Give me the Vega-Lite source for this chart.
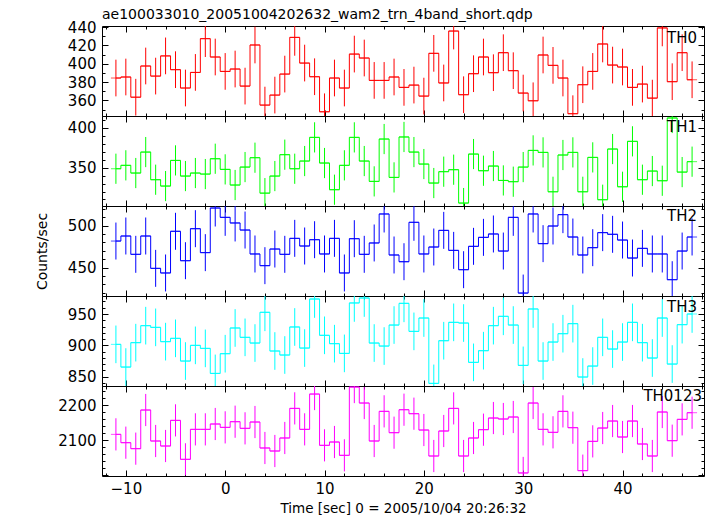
{
"$schema": "https://vega.github.io/schema/vega-lite/v6.json",
"padding": {"left": 34, "top": 7, "right": 5, "bottom": 5},
"background": "white",
"spacing": 0,
"bounds": "flush",
"datasets": {
"TH0": [{"t":-11,"rate":384.4,"err":20},{"t":-10,"rate":385.5,"err":20},{"t":-9,"rate":363.5,"err":20},{"t":-8,"rate":397.5,"err":20},{"t":-7,"rate":386.5,"err":20},{"t":-6,"rate":408.5,"err":20},{"t":-5,"rate":393.5,"err":20},{"t":-4,"rate":373.5,"err":20},{"t":-3,"rate":390.5,"err":20},{"t":-2,"rate":427.3,"err":20},{"t":-1,"rate":407.3,"err":20},{"t":0,"rate":391.6,"err":20},{"t":1,"rate":394.2,"err":20},{"t":2,"rate":375.6,"err":20},{"t":3,"rate":420.4,"err":20},{"t":4,"rate":354.9,"err":20},{"t":5,"rate":365.8,"err":20},{"t":6,"rate":388.7,"err":20},{"t":7,"rate":428.7,"err":20},{"t":8,"rate":400.7,"err":20},{"t":9,"rate":385.8,"err":20},{"t":10,"rate":347.6,"err":20},{"t":11,"rate":384.4,"err":20},{"t":12,"rate":373.5,"err":20},{"t":13,"rate":410.5,"err":20},{"t":14,"rate":406.2,"err":20},{"t":15,"rate":381.8,"err":20},{"t":16,"rate":381.8,"err":20},{"t":17,"rate":385.5,"err":20},{"t":18,"rate":374.2,"err":20},{"t":19,"rate":376.7,"err":20},{"t":20,"rate":364.7,"err":20},{"t":21,"rate":411.3,"err":20},{"t":22,"rate":379.0,"err":20},{"t":23,"rate":435.6,"err":20},{"t":24,"rate":366.2,"err":20},{"t":25,"rate":389.1,"err":20},{"t":26,"rate":407.3,"err":20},{"t":27,"rate":390.2,"err":20},{"t":28,"rate":412.0,"err":20},{"t":29,"rate":392.4,"err":20},{"t":30,"rate":368.0,"err":20},{"t":31,"rate":359.6,"err":20},{"t":32,"rate":409.5,"err":20},{"t":33,"rate":398.2,"err":20},{"t":34,"rate":384.4,"err":20},{"t":35,"rate":345.5,"err":20},{"t":36,"rate":377.1,"err":20},{"t":37,"rate":391.6,"err":20},{"t":38,"rate":421.5,"err":20},{"t":39,"rate":398.5,"err":20},{"t":40,"rate":396.4,"err":20},{"t":41,"rate":374.2,"err":20},{"t":42,"rate":377.8,"err":20},{"t":43,"rate":362.5,"err":20},{"t":44,"rate":439.0,"err":20},{"t":45,"rate":380.4,"err":20},{"t":46,"rate":412.0,"err":20},{"t":47,"rate":382.5,"err":20}],
"TH1": [{"t":-11,"rate":348.7,"err":19},{"t":-10,"rate":353.0,"err":19},{"t":-9,"rate":343.3,"err":19},{"t":-8,"rate":369.7,"err":19},{"t":-7,"rate":334.9,"err":19},{"t":-6,"rate":326.9,"err":19},{"t":-5,"rate":359.2,"err":19},{"t":-4,"rate":339.5,"err":19},{"t":-3,"rate":343.3,"err":19},{"t":-2,"rate":342.0,"err":19},{"t":-1,"rate":361.3,"err":19},{"t":0,"rate":347.9,"err":19},{"t":1,"rate":328.2,"err":19},{"t":2,"rate":350.8,"err":19},{"t":3,"rate":362.6,"err":19},{"t":4,"rate":318.0,"err":19},{"t":5,"rate":339.5,"err":19},{"t":6,"rate":366.4,"err":19},{"t":7,"rate":348.7,"err":19},{"t":8,"rate":358.4,"err":19},{"t":9,"rate":388.2,"err":19},{"t":10,"rate":355.9,"err":19},{"t":11,"rate":322.3,"err":19},{"t":12,"rate":353.0,"err":19},{"t":13,"rate":388.2,"err":19},{"t":14,"rate":358.4,"err":19},{"t":15,"rate":332.8,"err":19},{"t":16,"rate":386.1,"err":19},{"t":17,"rate":337.8,"err":19},{"t":18,"rate":388.7,"err":19},{"t":19,"rate":369.7,"err":19},{"t":20,"rate":354.6,"err":19},{"t":21,"rate":330.7,"err":19},{"t":22,"rate":345.0,"err":19},{"t":23,"rate":347.5,"err":19},{"t":24,"rate":305.5,"err":19},{"t":25,"rate":367.2,"err":19},{"t":26,"rate":346.2,"err":19},{"t":27,"rate":352.1,"err":19},{"t":28,"rate":334.0,"err":19},{"t":29,"rate":332.4,"err":19},{"t":30,"rate":350.8,"err":19},{"t":31,"rate":371.8,"err":19},{"t":32,"rate":369.3,"err":19},{"t":33,"rate":319.7,"err":19},{"t":34,"rate":366.0,"err":19},{"t":35,"rate":369.3,"err":19},{"t":36,"rate":319.7,"err":19},{"t":37,"rate":363.0,"err":19},{"t":38,"rate":309.7,"err":19},{"t":39,"rate":373.5,"err":19},{"t":40,"rate":326.0,"err":19},{"t":41,"rate":383.2,"err":19},{"t":42,"rate":334.9,"err":19},{"t":43,"rate":345.8,"err":19},{"t":44,"rate":333.6,"err":19},{"t":45,"rate":412.6,"err":19},{"t":46,"rate":344.5,"err":19},{"t":47,"rate":357.6,"err":19}],
"TH2": [{"t":-11,"rate":481.7,"err":22},{"t":-10,"rate":487.7,"err":22},{"t":-9,"rate":465.9,"err":22},{"t":-8,"rate":487.7,"err":22},{"t":-7,"rate":449.2,"err":22},{"t":-6,"rate":443.7,"err":22},{"t":-5,"rate":493.3,"err":22},{"t":-4,"rate":458.3,"err":22},{"t":-3,"rate":496.4,"err":22},{"t":-2,"rate":467.9,"err":22},{"t":-1,"rate":521.0,"err":22},{"t":0,"rate":509.9,"err":22},{"t":1,"rate":503.2,"err":22},{"t":2,"rate":494.8,"err":22},{"t":3,"rate":466.3,"err":22},{"t":4,"rate":452.4,"err":22},{"t":5,"rate":472.2,"err":22},{"t":6,"rate":465.9,"err":22},{"t":7,"rate":484.9,"err":22},{"t":8,"rate":475.8,"err":22},{"t":9,"rate":483.3,"err":22},{"t":10,"rate":466.3,"err":22},{"t":11,"rate":484.9,"err":22},{"t":12,"rate":443.7,"err":22},{"t":13,"rate":484.5,"err":22},{"t":14,"rate":465.9,"err":22},{"t":15,"rate":479.4,"err":22},{"t":16,"rate":513.9,"err":22},{"t":17,"rate":465.1,"err":22},{"t":18,"rate":457.1,"err":22},{"t":19,"rate":504.0,"err":22},{"t":20,"rate":466.3,"err":22},{"t":21,"rate":474.6,"err":22},{"t":22,"rate":494.4,"err":22},{"t":23,"rate":470.6,"err":22},{"t":24,"rate":447.6,"err":22},{"t":25,"rate":475.4,"err":22},{"t":26,"rate":486.1,"err":22},{"t":27,"rate":490.1,"err":22},{"t":28,"rate":469.8,"err":22},{"t":29,"rate":509.9,"err":22},{"t":30,"rate":419.8,"err":22},{"t":31,"rate":513.9,"err":22},{"t":32,"rate":478.6,"err":22},{"t":33,"rate":499.6,"err":22},{"t":34,"rate":513.1,"err":22},{"t":35,"rate":486.5,"err":22},{"t":36,"rate":465.1,"err":22},{"t":37,"rate":473.8,"err":22},{"t":38,"rate":491.7,"err":22},{"t":39,"rate":489.7,"err":22},{"t":40,"rate":482.9,"err":22},{"t":41,"rate":461.5,"err":22},{"t":42,"rate":473.0,"err":22},{"t":43,"rate":466.3,"err":22},{"t":44,"rate":466.3,"err":22},{"t":45,"rate":435.7,"err":22},{"t":46,"rate":469.8,"err":22},{"t":47,"rate":486.5,"err":22}],
"TH3": [{"t":-11,"rate":901.6,"err":30},{"t":-10,"rate":865.4,"err":30},{"t":-9,"rate":904.3,"err":30},{"t":-8,"rate":931.4,"err":30},{"t":-7,"rate":928.7,"err":30},{"t":-6,"rate":905.9,"err":30},{"t":-5,"rate":911.2,"err":30},{"t":-4,"rate":875.0,"err":30},{"t":-3,"rate":900.0,"err":30},{"t":-2,"rate":895.2,"err":30},{"t":-1,"rate":855.3,"err":30},{"t":0,"rate":886.7,"err":30},{"t":1,"rate":927.7,"err":30},{"t":2,"rate":912.8,"err":30},{"t":3,"rate":903.7,"err":30},{"t":4,"rate":952.7,"err":30},{"t":5,"rate":891.0,"err":30},{"t":6,"rate":884.6,"err":30},{"t":7,"rate":929.3,"err":30},{"t":8,"rate":895.7,"err":30},{"t":9,"rate":973.9,"err":30},{"t":10,"rate":916.0,"err":30},{"t":11,"rate":902.7,"err":30},{"t":12,"rate":887.2,"err":30},{"t":13,"rate":967.6,"err":30},{"t":14,"rate":975.5,"err":30},{"t":15,"rate":903.7,"err":30},{"t":16,"rate":898.9,"err":30},{"t":17,"rate":932.4,"err":30},{"t":18,"rate":967.0,"err":30},{"t":19,"rate":922.3,"err":30},{"t":20,"rate":943.6,"err":30},{"t":21,"rate":839.4,"err":30},{"t":22,"rate":907.4,"err":30},{"t":23,"rate":936.7,"err":30},{"t":24,"rate":935.6,"err":30},{"t":25,"rate":872.9,"err":30},{"t":26,"rate":891.5,"err":30},{"t":27,"rate":931.4,"err":30},{"t":28,"rate":946.3,"err":30},{"t":29,"rate":932.4,"err":30},{"t":30,"rate":868.1,"err":30},{"t":31,"rate":958.0,"err":30},{"t":32,"rate":875.0,"err":30},{"t":33,"rate":905.3,"err":30},{"t":34,"rate":918.6,"err":30},{"t":35,"rate":934.6,"err":30},{"t":36,"rate":849.5,"err":30},{"t":37,"rate":867.0,"err":30},{"t":38,"rate":912.8,"err":30},{"t":39,"rate":894.1,"err":30},{"t":40,"rate":905.3,"err":30},{"t":41,"rate":936.7,"err":30},{"t":42,"rate":904.3,"err":30},{"t":43,"rate":879.8,"err":30},{"t":44,"rate":943.6,"err":30},{"t":45,"rate":870.2,"err":30},{"t":46,"rate":933.0,"err":30},{"t":47,"rate":950.0,"err":30}],
"TH0123": [{"t":-11,"rate":2117.1,"err":46},{"t":-10,"rate":2093.3,"err":46},{"t":-9,"rate":2076.2,"err":46},{"t":-8,"rate":2186.7,"err":46},{"t":-7,"rate":2098.1,"err":46},{"t":-6,"rate":2083.8,"err":46},{"t":-5,"rate":2157.1,"err":46},{"t":-4,"rate":2045.7,"err":46},{"t":-3,"rate":2131.4,"err":46},{"t":-2,"rate":2131.4,"err":46},{"t":-1,"rate":2146.7,"err":46},{"t":0,"rate":2137.1,"err":46},{"t":1,"rate":2153.3,"err":46},{"t":2,"rate":2134.3,"err":46},{"t":3,"rate":2152.4,"err":46},{"t":4,"rate":2078.1,"err":46},{"t":5,"rate":2069.5,"err":46},{"t":6,"rate":2106.7,"err":46},{"t":7,"rate":2191.4,"err":46},{"t":8,"rate":2131.4,"err":46},{"t":9,"rate":2232.4,"err":46},{"t":10,"rate":2085.7,"err":46},{"t":11,"rate":2095.2,"err":46},{"t":12,"rate":2057.1,"err":46},{"t":13,"rate":2252.4,"err":46},{"t":14,"rate":2206.7,"err":46},{"t":15,"rate":2098.1,"err":46},{"t":16,"rate":2182.9,"err":46},{"t":17,"rate":2121.9,"err":46},{"t":18,"rate":2187.6,"err":46},{"t":19,"rate":2176.2,"err":46},{"t":20,"rate":2129.5,"err":46},{"t":21,"rate":2055.2,"err":46},{"t":22,"rate":2126.7,"err":46},{"t":23,"rate":2191.4,"err":46},{"t":24,"rate":2055.2,"err":46},{"t":25,"rate":2106.7,"err":46},{"t":26,"rate":2130.5,"err":46},{"t":27,"rate":2163.8,"err":46},{"t":28,"rate":2161.0,"err":46},{"t":29,"rate":2166.7,"err":46},{"t":30,"rate":2006.7,"err":46},{"t":31,"rate":2206.7,"err":46},{"t":32,"rate":2131.4,"err":46},{"t":33,"rate":2122.9,"err":46},{"t":34,"rate":2182.9,"err":46},{"t":35,"rate":2136.2,"err":46},{"t":36,"rate":2013.3,"err":46},{"t":37,"rate":2097.1,"err":46},{"t":38,"rate":2135.2,"err":46},{"t":39,"rate":2155.2,"err":46},{"t":40,"rate":2109.5,"err":46},{"t":41,"rate":2155.2,"err":46},{"t":42,"rate":2089.5,"err":46},{"t":43,"rate":2055.2,"err":46},{"t":44,"rate":2181.0,"err":46},{"t":45,"rate":2099.0,"err":46},{"t":46,"rate":2160.0,"err":46},{"t":47,"rate":2179.0,"err":46}]
},
"vconcat": [
{
"data": {"name": "TH0"},
"width": 602, "height": 90,
"title": {"text": "ae100033010_20051004202632_wam2_trn_4band_short.qdp", "anchor": "start", "frame": "group", "fontSize": 14, "fontWeight": "normal", "font": "DejaVu Sans", "color": "black", "offset": -2},
"layer": [
{"mark": {"type": "line", "interpolate": "step", "color": "#ff0000", "strokeWidth": 1, "clip": true},
 "encoding": {
  "x": {"field": "t", "type": "quantitative", "scale": {"domain": [-12.4, 48.2], "nice": false, "zero": false}, "axis": null},
  "y": {"field": "rate", "type": "quantitative", "scale": {"domain": [343, 441.1], "nice": false, "zero": false}, "axis": {"orient": "left", "values": [360,380,400,420,440], "format": "d", "ticks": false, "labelPadding": 6, "title": null}}}},
{"mark": {"type": "tick", "orient": "horizontal", "size": 10, "thickness": 1, "color": "#ff0000", "clip": true},
 "encoding": {
  "x": {"field": "t", "type": "quantitative", "axis": {"orient": "bottom", "values": [-12,-10,-8,-6,-4,-2,0,2,4,6,8,10,12,14,16,18,20,22,24,26,28,30,32,34,36,38,40,42,44,46,48], "labels": false, "title": null, "tickSize": {"condition": {"test": "datum.value % 10 === 0", "value": -6}, "value": -3}}},
  "y": {"field": "rate", "type": "quantitative", "axis": {"orient": "left", "values": [350,360,370,380,390,400,410,420,430,440], "labels": false, "title": null, "tickSize": {"condition": {"test": "datum.value % 20 === 0", "value": -6}, "value": -3}}}}},
{"mark": {"type": "errorbar", "color": "#ff0000", "clip": true, "rule": {"strokeWidth": 1}},
 "encoding": {
  "x": {"field": "t", "type": "quantitative", "axis": {"orient": "top", "values": [-12,-10,-8,-6,-4,-2,0,2,4,6,8,10,12,14,16,18,20,22,24,26,28,30,32,34,36,38,40,42,44,46,48], "labels": false, "title": null, "tickSize": {"condition": {"test": "datum.value % 10 === 0", "value": -6}, "value": -3}}},
  "y": {"field": "rate", "type": "quantitative", "axis": {"orient": "right", "values": [350,360,370,380,390,400,410,420,430,440], "labels": false, "title": null, "tickSize": {"condition": {"test": "datum.value % 20 === 0", "value": -6}, "value": -3}}},
  "yError": {"field": "err"}}},
{"data": {"values": [{"label": "TH0"}]},
 "mark": {"type": "text", "align": "right", "baseline": "alphabetic", "fontSize": 15, "font": "DejaVu Sans", "color": "black"},
 "encoding": {"x": {"datum": 47.5, "type": "quantitative", "axis": null}, "y": {"datum": 423, "type": "quantitative", "axis": null}, "text": {"field": "label"}}}
],
"resolve": {"axis": {"x": "independent", "y": "independent"}}
},
{
"data": {"name": "TH1"},
"width": 602, "height": 90,
"layer": [
{"mark": {"type": "line", "interpolate": "step", "color": "#00ff00", "strokeWidth": 1, "clip": true},
 "encoding": {
  "x": {"field": "t", "type": "quantitative", "scale": {"domain": [-12.4, 48.2], "nice": false, "zero": false}, "axis": null},
  "y": {"field": "rate", "type": "quantitative", "scale": {"domain": [301.8, 415.1], "nice": false, "zero": false}, "axis": {"orient": "left", "values": [350,400], "format": "d", "ticks": false, "labelPadding": 6, "title": null}}}},
{"mark": {"type": "tick", "orient": "horizontal", "size": 10, "thickness": 1, "color": "#00ff00", "clip": true},
 "encoding": {
  "x": {"field": "t", "type": "quantitative", "axis": {"orient": "bottom", "values": [-12,-10,-8,-6,-4,-2,0,2,4,6,8,10,12,14,16,18,20,22,24,26,28,30,32,34,36,38,40,42,44,46,48], "labels": false, "title": null, "tickSize": {"condition": {"test": "datum.value % 10 === 0", "value": -6}, "value": -3}}},
  "y": {"field": "rate", "type": "quantitative", "axis": {"orient": "left", "values": [310,320,330,340,350,360,370,380,390,400,410], "labels": false, "title": null, "tickSize": {"condition": {"test": "datum.value % 50 === 0", "value": -6}, "value": -3}}}}},
{"mark": {"type": "errorbar", "color": "#00ff00", "clip": true, "rule": {"strokeWidth": 1}},
 "encoding": {
  "x": {"field": "t", "type": "quantitative", "axis": {"orient": "top", "values": [-12,-10,-8,-6,-4,-2,0,2,4,6,8,10,12,14,16,18,20,22,24,26,28,30,32,34,36,38,40,42,44,46,48], "labels": false, "title": null, "tickSize": {"condition": {"test": "datum.value % 10 === 0", "value": -6}, "value": -3}}},
  "y": {"field": "rate", "type": "quantitative", "axis": {"orient": "right", "values": [310,320,330,340,350,360,370,380,390,400,410], "labels": false, "title": null, "tickSize": {"condition": {"test": "datum.value % 50 === 0", "value": -6}, "value": -3}}},
  "yError": {"field": "err"}}},
{"data": {"values": [{"label": "TH1"}]},
 "mark": {"type": "text", "align": "right", "baseline": "alphabetic", "fontSize": 15, "font": "DejaVu Sans", "color": "black"},
 "encoding": {"x": {"datum": 47.5, "type": "quantitative", "axis": null}, "y": {"datum": 394.9, "type": "quantitative", "axis": null}, "text": {"field": "label"}}}
],
"resolve": {"axis": {"x": "independent", "y": "independent"}}
},
{
"data": {"name": "TH2"},
"width": 602, "height": 90,
"layer": [
{"mark": {"type": "line", "interpolate": "step", "color": "#0000ff", "strokeWidth": 1, "clip": true},
 "encoding": {
  "x": {"field": "t", "type": "quantitative", "scale": {"domain": [-12.4, 48.2], "nice": false, "zero": false}, "axis": null},
  "y": {"field": "rate", "type": "quantitative", "scale": {"domain": [416.3, 523.4], "nice": false, "zero": false}, "axis": {"orient": "left", "values": [450,500], "format": "d", "ticks": false, "labelPadding": 6, "title": "Counts/sec", "titlePadding": 18, "titleFontWeight": "normal", "titleFontSize": 14}}}},
{"mark": {"type": "tick", "orient": "horizontal", "size": 10, "thickness": 1, "color": "#0000ff", "clip": true},
 "encoding": {
  "x": {"field": "t", "type": "quantitative", "axis": {"orient": "bottom", "values": [-12,-10,-8,-6,-4,-2,0,2,4,6,8,10,12,14,16,18,20,22,24,26,28,30,32,34,36,38,40,42,44,46,48], "labels": false, "title": null, "tickSize": {"condition": {"test": "datum.value % 10 === 0", "value": -6}, "value": -3}}},
  "y": {"field": "rate", "type": "quantitative", "axis": {"orient": "left", "values": [420,430,440,450,460,470,480,490,500,510,520], "labels": false, "title": null, "tickSize": {"condition": {"test": "datum.value % 50 === 0", "value": -6}, "value": -3}}}}},
{"mark": {"type": "errorbar", "color": "#0000ff", "clip": true, "rule": {"strokeWidth": 1}},
 "encoding": {
  "x": {"field": "t", "type": "quantitative", "axis": {"orient": "top", "values": [-12,-10,-8,-6,-4,-2,0,2,4,6,8,10,12,14,16,18,20,22,24,26,28,30,32,34,36,38,40,42,44,46,48], "labels": false, "title": null, "tickSize": {"condition": {"test": "datum.value % 10 === 0", "value": -6}, "value": -3}}},
  "y": {"field": "rate", "type": "quantitative", "axis": {"orient": "right", "values": [420,430,440,450,460,470,480,490,500,510,520], "labels": false, "title": null, "tickSize": {"condition": {"test": "datum.value % 50 === 0", "value": -6}, "value": -3}}},
  "yError": {"field": "err"}}},
{"data": {"values": [{"label": "TH2"}]},
 "mark": {"type": "text", "align": "right", "baseline": "alphabetic", "fontSize": 15, "font": "DejaVu Sans", "color": "black"},
 "encoding": {"x": {"datum": 47.5, "type": "quantitative", "axis": null}, "y": {"datum": 505.1, "type": "quantitative", "axis": null}, "text": {"field": "label"}}}
],
"resolve": {"axis": {"x": "independent", "y": "independent"}}
},
{
"data": {"name": "TH3"},
"width": 602, "height": 90,
"layer": [
{"mark": {"type": "line", "interpolate": "step", "color": "#00ffff", "strokeWidth": 1, "clip": true},
 "encoding": {
  "x": {"field": "t", "type": "quantitative", "scale": {"domain": [-12.4, 48.2], "nice": false, "zero": false}, "axis": null},
  "y": {"field": "rate", "type": "quantitative", "scale": {"domain": [835.2, 978.7], "nice": false, "zero": false}, "axis": {"orient": "left", "values": [850,900,950], "format": "d", "ticks": false, "labelPadding": 6, "title": null}}}},
{"mark": {"type": "tick", "orient": "horizontal", "size": 10, "thickness": 1, "color": "#00ffff", "clip": true},
 "encoding": {
  "x": {"field": "t", "type": "quantitative", "axis": {"orient": "bottom", "values": [-12,-10,-8,-6,-4,-2,0,2,4,6,8,10,12,14,16,18,20,22,24,26,28,30,32,34,36,38,40,42,44,46,48], "labels": false, "title": null, "tickSize": {"condition": {"test": "datum.value % 10 === 0", "value": -6}, "value": -3}}},
  "y": {"field": "rate", "type": "quantitative", "axis": {"orient": "left", "values": [840,850,860,870,880,890,900,910,920,930,940,950,960,970], "labels": false, "title": null, "tickSize": {"condition": {"test": "datum.value % 50 === 0", "value": -6}, "value": -3}}}}},
{"mark": {"type": "errorbar", "color": "#00ffff", "clip": true, "rule": {"strokeWidth": 1}},
 "encoding": {
  "x": {"field": "t", "type": "quantitative", "axis": {"orient": "top", "values": [-12,-10,-8,-6,-4,-2,0,2,4,6,8,10,12,14,16,18,20,22,24,26,28,30,32,34,36,38,40,42,44,46,48], "labels": false, "title": null, "tickSize": {"condition": {"test": "datum.value % 10 === 0", "value": -6}, "value": -3}}},
  "y": {"field": "rate", "type": "quantitative", "axis": {"orient": "right", "values": [840,850,860,870,880,890,900,910,920,930,940,950,960,970], "labels": false, "title": null, "tickSize": {"condition": {"test": "datum.value % 50 === 0", "value": -6}, "value": -3}}},
  "yError": {"field": "err"}}},
{"data": {"values": [{"label": "TH3"}]},
 "mark": {"type": "text", "align": "right", "baseline": "alphabetic", "fontSize": 15, "font": "DejaVu Sans", "color": "black"},
 "encoding": {"x": {"datum": 47.5, "type": "quantitative", "axis": null}, "y": {"datum": 953.4, "type": "quantitative", "axis": null}, "text": {"field": "label"}}}
],
"resolve": {"axis": {"x": "independent", "y": "independent"}}
},
{
"data": {"name": "TH0123"},
"width": 602, "height": 90,
"layer": [
{"mark": {"type": "line", "interpolate": "step", "color": "#ff00ff", "strokeWidth": 1, "clip": true},
 "encoding": {
  "x": {"field": "t", "type": "quantitative", "scale": {"domain": [-12.4, 48.2], "nice": false, "zero": false}, "axis": {"orient": "bottom", "values": [-10,0,10,20,30,40], "ticks": false, "labelPadding": 5, "title": "Time [sec] 0 = 2005/10/04 20:26:32", "titlePadding": 5, "titleFontWeight": "normal", "titleFontSize": 13.5}},
  "y": {"field": "rate", "type": "quantitative", "scale": {"domain": [1998, 2255.4], "nice": false, "zero": false}, "axis": {"orient": "left", "values": [2100,2200], "format": "d", "ticks": false, "labelPadding": 6, "title": null}}}},
{"mark": {"type": "tick", "orient": "horizontal", "size": 10, "thickness": 1, "color": "#ff00ff", "clip": true},
 "encoding": {
  "x": {"field": "t", "type": "quantitative", "axis": {"orient": "bottom", "values": [-12,-10,-8,-6,-4,-2,0,2,4,6,8,10,12,14,16,18,20,22,24,26,28,30,32,34,36,38,40,42,44,46,48], "labels": false, "title": null, "tickSize": {"condition": {"test": "datum.value % 10 === 0", "value": -6}, "value": -3}}},
  "y": {"field": "rate", "type": "quantitative", "axis": {"orient": "left", "values": [2000,2020,2040,2060,2080,2100,2120,2140,2160,2180,2200,2220,2240], "labels": false, "title": null, "tickSize": {"condition": {"test": "datum.value % 100 === 0", "value": -6}, "value": -3}}}}},
{"mark": {"type": "errorbar", "color": "#ff00ff", "clip": true, "rule": {"strokeWidth": 1}},
 "encoding": {
  "x": {"field": "t", "type": "quantitative", "axis": {"orient": "top", "values": [-12,-10,-8,-6,-4,-2,0,2,4,6,8,10,12,14,16,18,20,22,24,26,28,30,32,34,36,38,40,42,44,46,48], "labels": false, "title": null, "tickSize": {"condition": {"test": "datum.value % 10 === 0", "value": -6}, "value": -3}}},
  "y": {"field": "rate", "type": "quantitative", "axis": {"orient": "right", "values": [2000,2020,2040,2060,2080,2100,2120,2140,2160,2180,2200,2220,2240], "labels": false, "title": null, "tickSize": {"condition": {"test": "datum.value % 100 === 0", "value": -6}, "value": -3}}},
  "yError": {"field": "err"}}},
{"data": {"values": [{"label": "TH0123"}]},
 "mark": {"type": "text", "align": "right", "baseline": "alphabetic", "fontSize": 15, "font": "DejaVu Sans", "color": "black"},
 "encoding": {"x": {"datum": 48.0, "type": "quantitative", "axis": null}, "y": {"datum": 2211.4, "type": "quantitative", "axis": null}, "text": {"field": "label"}}}
],
"resolve": {"axis": {"x": "independent", "y": "independent"}}
}
],
"config": {
 "view": {"stroke": "black", "strokeWidth": 1},
 "font": "DejaVu Sans",
 "axis": {"grid": false, "domain": false, "tickColor": "black", "tickWidth": 1, "labelColor": "black", "labelFont": "DejaVu Sans", "labelFontSize": 15, "titleFont": "DejaVu Sans", "titleColor": "black", "labelOverlap": false, "labelBound": false, "labelFlush": false}
}
}
